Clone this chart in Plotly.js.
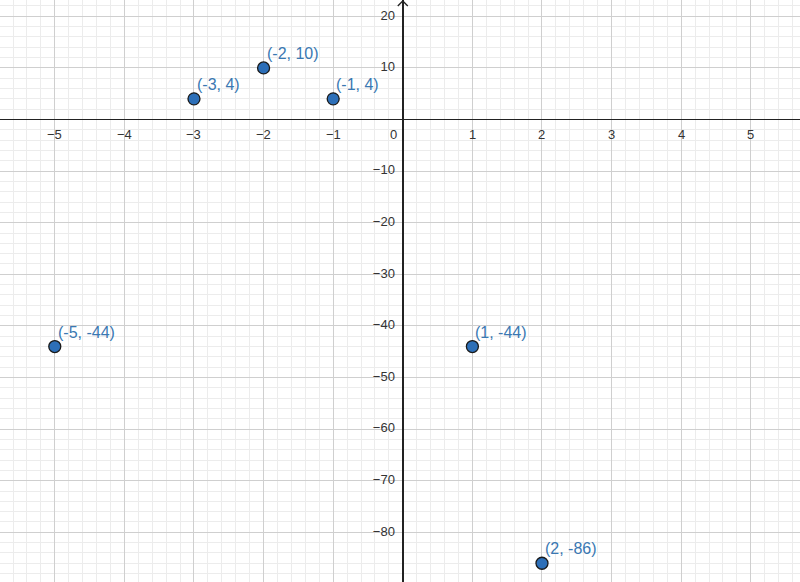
<!DOCTYPE html>
<html><head><meta charset="utf-8">
<script src="https://cdn.plot.ly/plotly-3.0.1.min.js"></script>
<style>html,body{margin:0;padding:0;background:#fff}#g{width:800px;height:582px}</style>
</head><body><div id="g"></div>
<script>
const xs = [-5, -3, -2, -1, 1, 2];
const ys = [-44, 4, 10, 4, -44, -86];
const labels = ['(-5, -44)', '(-3, 4)', '(-2, 10)', '(-1, 4)', '(1, -44)', '(2, -86)'];
const xTicks = [-5, -4, -3, -2, -1, 1, 2, 3, 4, 5];
const xTickText = ['\u22125', '\u22124', '\u22123', '\u22122', '\u22121', '1', '2', '3', '4', '5'];
const yTicks = [20, 10, -10, -20, -30, -40, -50, -60, -70, -80, -90];
const yTickText = ['20', '10', '\u221210', '\u221220', '\u221230', '\u221240', '\u221250', '\u221260', '\u221270', '\u221280', '\u221290'];

const tickFont = {family: 'Liberation Sans, Arial, sans-serif', size: 13, color: '#333'};
const ann = [];
xTicks.forEach((v, i) => ann.push({x: v, y: 0, xref: 'x', yref: 'y', text: xTickText[i], showarrow: false,
  xanchor: 'center', yanchor: 'top', yshift: -5, font: tickFont}));
ann.push({x: 0, y: 0, xref: 'x', yref: 'y', text: '0', showarrow: false, xanchor: 'right', yanchor: 'top',
  xshift: -4, yshift: -5, font: tickFont});
xs.forEach((v, i) => ann.push({x: v, y: ys[i], xref: 'x', yref: 'y', text: labels[i], showarrow: false,
  xanchor: 'left', yanchor: 'bottom', xshift: 1, yshift: 4,
  font: {family: 'Liberation Sans, Arial, sans-serif', size: 16, color: '#3a78b2'}}));

const data = [{
  type: 'scatter', mode: 'markers+text', x: yTicks.map(() => 0), y: yTicks, text: yTickText,
  marker: {size: 11, opacity: 0},
  textposition: 'middle left', textfont: tickFont, hoverinfo: 'skip', cliponaxis: false
}, {
  type: 'scatter', mode: 'markers', x: xs, y: ys,
  marker: {size: 12, color: '#2d6fb8', line: {color: '#1a1a1a', width: 1.3}},
  hoverinfo: 'skip', cliponaxis: false
}];

const layout = {
  width: 800, height: 582,
  margin: {l: 0, r: 0, t: 0, b: 0, pad: 0},
  paper_bgcolor: '#fff', plot_bgcolor: '#fff',
  showlegend: false,
  xaxis: {range: [-5.787, 5.707], dtick: 1, tick0: 0, showticklabels: false, ticks: '',
    showgrid: true, gridcolor: '#cfcfcf', gridwidth: 1,
    zeroline: true, zerolinecolor: '#222', zerolinewidth: 1.5,
    minor: {dtick: 0.2, tick0: 0, showgrid: true, gridcolor: '#ececec', gridwidth: 1},
    fixedrange: true},
  yaxis: {range: [-89.63, 23.16], dtick: 10, tick0: 0, showticklabels: false, ticks: '',
    showgrid: true, gridcolor: '#cfcfcf', gridwidth: 1,
    zeroline: true, zerolinecolor: '#222', zerolinewidth: 1.5,
    minor: {dtick: 2, tick0: 0, showgrid: true, gridcolor: '#ececec', gridwidth: 1},
    fixedrange: true},
  annotations: ann,
  shapes: [{type: 'path', xref: 'x', yref: 'paper', xsizemode: 'pixel', ysizemode: 'pixel',
    xanchor: 0, yanchor: 1, path: 'M-5,-6 L0,-1 L5,-6', line: {color: '#222', width: 1.3}}]
};
Plotly.newPlot('g', data, layout, {staticPlot: true, displayModeBar: false});
</script></body></html>
